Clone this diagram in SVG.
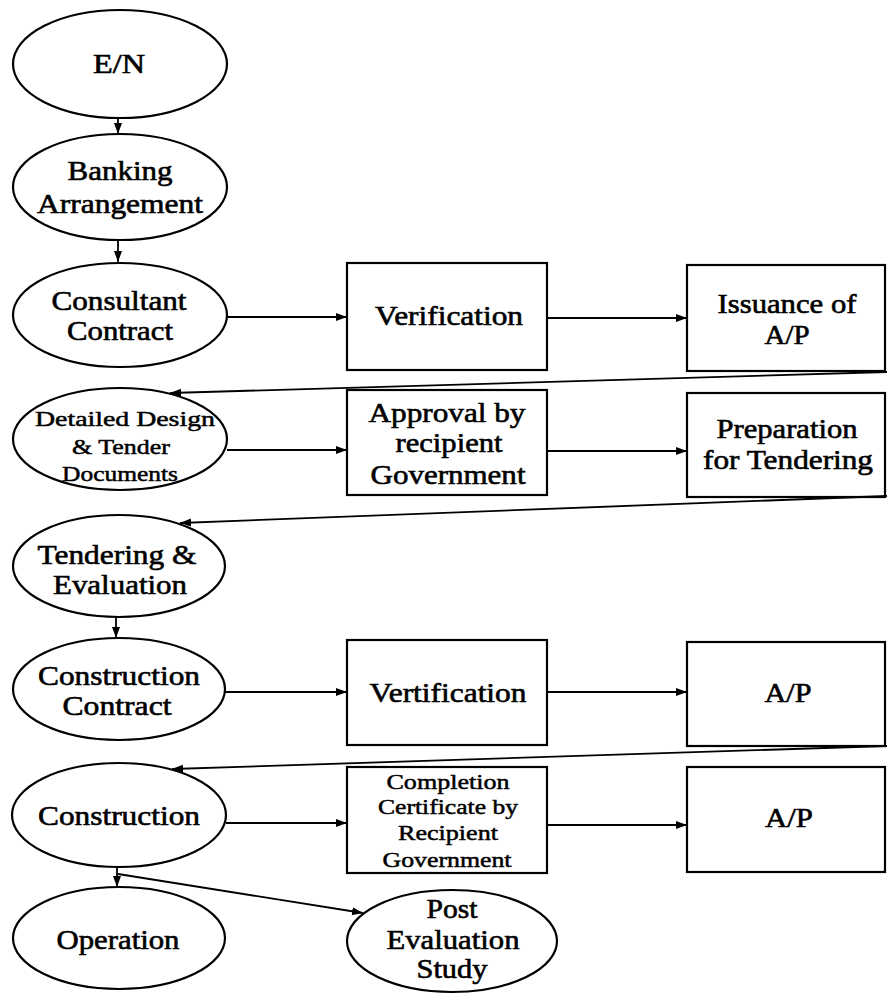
<svg xmlns="http://www.w3.org/2000/svg" width="887" height="997" viewBox="0 0 887 997">
<style>
.bg{fill:#ffffff}
.node ellipse,.node rect{fill:none;stroke:#000;stroke-width:2.2}
.t{font-family:"Liberation Serif","Times New Roman",serif;font-size:27px;fill:#000;stroke:#000;stroke-width:0.6;text-anchor:middle}
.s{font-size:22px;stroke-width:0.5}
.c path{fill:none;stroke:#000;stroke-width:1.8}
</style>
<defs>
<marker id="ah" markerUnits="userSpaceOnUse" markerWidth="12" markerHeight="10" refX="11" refY="4" orient="auto">
<path d="M0,0 L11,4 L0,8 Z" fill="#000"/>
</marker>
</defs>
<rect class="bg" x="0" y="0" width="887" height="997"/>

<g id="en" class="node">
<ellipse cx="120" cy="64" rx="107" ry="54"/>
<text class="t" x="119" y="73" textLength="52" lengthAdjust="spacingAndGlyphs">E/N</text>
</g>
<g id="banking" class="node">
<ellipse cx="120" cy="187" rx="107" ry="53"/>
<text class="t" x="120" y="180" textLength="105" lengthAdjust="spacingAndGlyphs">Banking</text>
<text class="t" x="120" y="213" textLength="166" lengthAdjust="spacingAndGlyphs">Arrangement</text>
</g>
<g id="consultant" class="node">
<ellipse cx="120" cy="315" rx="107" ry="52"/>
<text class="t" x="119" y="310" textLength="135" lengthAdjust="spacingAndGlyphs">Consultant</text>
<text class="t" x="120" y="340" textLength="106" lengthAdjust="spacingAndGlyphs">Contract</text>
</g>
<g id="verification" class="node">
<rect x="347" y="263" width="200" height="107"/>
<text class="t" x="449" y="325" textLength="148" lengthAdjust="spacingAndGlyphs">Verification</text>
</g>
<g id="issuance" class="node">
<rect x="687" y="265" width="198" height="106"/>
<text class="t" x="787" y="313" textLength="139" lengthAdjust="spacingAndGlyphs">Issuance of</text>
<text class="t" x="787" y="344" textLength="45" lengthAdjust="spacingAndGlyphs">A/P</text>
</g>
<g id="detailed" class="node">
<ellipse cx="120" cy="439" rx="107" ry="51"/>
<text class="t s" x="125" y="426" textLength="180" lengthAdjust="spacingAndGlyphs">Detailed Design</text>
<text class="t s" x="121" y="454" textLength="98" lengthAdjust="spacingAndGlyphs">&amp; Tender</text>
<text class="t s" x="120" y="481" textLength="116" lengthAdjust="spacingAndGlyphs">Documents</text>
</g>
<g id="approval" class="node">
<rect x="347" y="390" width="200" height="105"/>
<text class="t" x="447" y="422" textLength="157" lengthAdjust="spacingAndGlyphs">Approval by</text>
<text class="t" x="449" y="452" textLength="107" lengthAdjust="spacingAndGlyphs">recipient</text>
<text class="t" x="448" y="484" textLength="155" lengthAdjust="spacingAndGlyphs">Government</text>
</g>
<g id="preparation" class="node">
<rect x="687" y="393" width="198" height="104"/>
<text class="t" x="787" y="438" textLength="141" lengthAdjust="spacingAndGlyphs">Preparation</text>
<text class="t" x="788" y="469" textLength="170" lengthAdjust="spacingAndGlyphs">for Tendering</text>
</g>
<g id="tendering" class="node">
<ellipse cx="119" cy="566" rx="106" ry="51"/>
<text class="t" x="117" y="564" textLength="159" lengthAdjust="spacingAndGlyphs">Tendering &amp;</text>
<text class="t" x="120" y="594" textLength="134" lengthAdjust="spacingAndGlyphs">Evaluation</text>
</g>
<g id="construction-contract" class="node">
<ellipse cx="119" cy="689" rx="106" ry="51"/>
<text class="t" x="119" y="685" textLength="162" lengthAdjust="spacingAndGlyphs">Construction</text>
<text class="t" x="117" y="715" textLength="109" lengthAdjust="spacingAndGlyphs">Contract</text>
</g>
<g id="vertification" class="node">
<rect x="347" y="640" width="200" height="105"/>
<text class="t" x="448" y="702" textLength="157" lengthAdjust="spacingAndGlyphs">Vertification</text>
</g>
<g id="ap1" class="node">
<rect x="687" y="642" width="198" height="104"/>
<text class="t" x="788" y="702" textLength="47" lengthAdjust="spacingAndGlyphs">A/P</text>
</g>
<g id="construction" class="node">
<ellipse cx="119" cy="815" rx="107" ry="52"/>
<text class="t" x="119" y="825" textLength="162" lengthAdjust="spacingAndGlyphs">Construction</text>
</g>
<g id="completion" class="node">
<rect x="347" y="767" width="200" height="106"/>
<text class="t s" x="448" y="789" textLength="123" lengthAdjust="spacingAndGlyphs">Completion</text>
<text class="t s" x="448" y="814" textLength="140" lengthAdjust="spacingAndGlyphs">Certificate by</text>
<text class="t s" x="448" y="840" textLength="100" lengthAdjust="spacingAndGlyphs">Recipient</text>
<text class="t s" x="447" y="867" textLength="129" lengthAdjust="spacingAndGlyphs">Government</text>
</g>
<g id="ap2" class="node">
<rect x="687" y="767" width="198" height="105"/>
<text class="t" x="789" y="827" textLength="48" lengthAdjust="spacingAndGlyphs">A/P</text>
</g>
<g id="operation" class="node">
<ellipse cx="119" cy="938" rx="106" ry="51"/>
<text class="t" x="118" y="949" textLength="123" lengthAdjust="spacingAndGlyphs">Operation</text>
</g>
<g id="post" class="node">
<ellipse cx="452" cy="941" rx="105" ry="51"/>
<text class="t" x="452" y="918" textLength="51" lengthAdjust="spacingAndGlyphs">Post</text>
<text class="t" x="453" y="949" textLength="133" lengthAdjust="spacingAndGlyphs">Evaluation</text>
<text class="t" x="452" y="978" textLength="71" lengthAdjust="spacingAndGlyphs">Study</text>
</g>

<g id="connectors" class="c">
<path d="M118,118 L118,134" marker-end="url(#ah)"/>
<path d="M118,240 L118,262" marker-end="url(#ah)"/>
<path d="M227,317 L347,317" marker-end="url(#ah)"/>
<path d="M547,318 L687,318" marker-end="url(#ah)"/>
<path d="M887,372 L170,393" marker-end="url(#ah)"/>
<path d="M227,450 L347,450" marker-end="url(#ah)"/>
<path d="M547,451 L687,451" marker-end="url(#ah)"/>
<path d="M887,496 L180,523" marker-end="url(#ah)"/>
<path d="M116,617 L116,638" marker-end="url(#ah)"/>
<path d="M225,692 L347,692" marker-end="url(#ah)"/>
<path d="M547,692 L687,692" marker-end="url(#ah)"/>
<path d="M887,746 L172,769" marker-end="url(#ah)"/>
<path d="M226,823 L347,823" marker-end="url(#ah)"/>
<path d="M547,825 L687,825" marker-end="url(#ah)"/>
<path d="M117,867 L117,887" marker-end="url(#ah)"/>
<path d="M118,874 L363,913" marker-end="url(#ah)"/>
</g>
</svg>
